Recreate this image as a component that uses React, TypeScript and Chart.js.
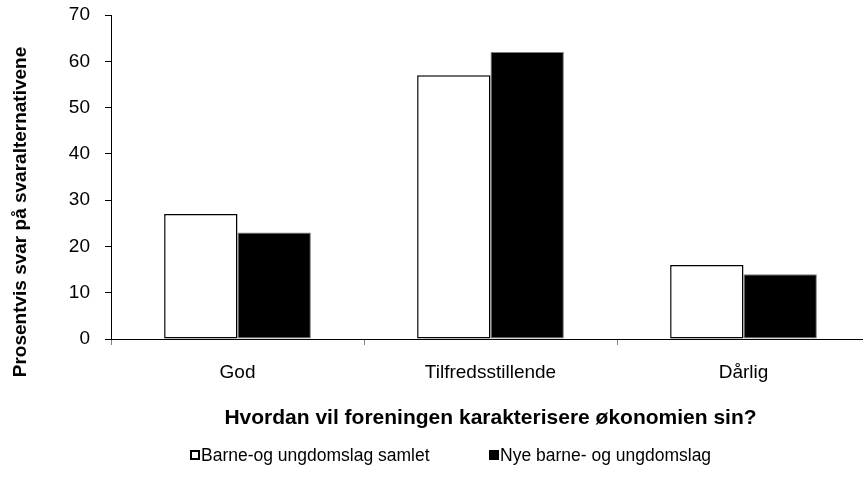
import React, { useEffect, useRef } from "react";
import { Chart, registerables } from "chart.js";

Chart.register(...registerables);

const categories = ["God", "Tilfredsstillende", "Dårlig"];
const seriesLabels = ["Barne-og ungdomslag samlet", "Nye barne- og ungdomslag"];
const samlet = [27, 57, 16];
const nye = [23, 62, 14];
const yTicks = [0, 10, 20, 30, 40, 50, 60, 70];
const xTitle = "Hvordan vil foreningen karakterisere økonomien sin?";
const yTitle = "Prosentvis svar på svaralternativene";

const FONT = "'Liberation Sans', Arial, Helvetica, sans-serif";

const yTitlePlugin = {
  id: "yTitleShifted",
  afterDraw(chart: any) {
    const { ctx, chartArea } = chart;
    ctx.save();
    ctx.font = `bold 19px ${FONT}`;
    ctx.fillStyle = "#000";
    ctx.textAlign = "center";
    ctx.textBaseline = "middle";
    ctx.translate(21, (chartArea.top + chartArea.bottom) / 2 + 35);
    ctx.rotate(-Math.PI / 2);
    ctx.fillText(yTitle, 0, 0);
    ctx.restore();
  },
};

export default function App() {
  const ref = useRef<HTMLCanvasElement>(null);

  useEffect(() => {
    const chart = new Chart(ref.current as HTMLCanvasElement, {
      type: "bar",
      data: {
        labels: categories,
        datasets: [
          {
            label: seriesLabels[0],
            data: samlet,
            backgroundColor: "#ffffff",
            borderColor: "#000000",
            borderWidth: 1.5,
            borderSkipped: false,
          },
          {
            label: seriesLabels[1],
            data: nye,
            backgroundColor: "#000000",
            borderColor: "#7f7f7f",
            borderWidth: 1,
            borderSkipped: false,
          },
        ],
      },
      options: {
        responsive: false,
        animation: false,
        categoryPercentage: 0.58,
        barPercentage: 1,
        layout: { padding: { top: 15, right: 2, left: 0, bottom: 0 } },
        plugins: {
          legend: { display: false },
          tooltip: { enabled: false },
        },
        scales: {
          x: {
            grid: {
              display: true,
              drawOnChartArea: false,
              drawTicks: true,
              tickLength: 6,
              color: "#808080",
              offset: true,
            },
            border: { display: true, color: "#000", width: 1 },
            ticks: {
              color: "#000",
              font: { family: FONT, size: 19 },
              padding: 16,
            },
            title: {
              display: true,
              text: xTitle,
              color: "#000",
              font: { family: FONT, size: 21, weight: "bold" },
              padding: { top: 0, bottom: 65 },
            },
            afterFit: (s: any) => {
              s.height = 157;
              s.paddingLeft = 0;
              s.paddingRight = 0;
            },
          },
          y: {
            min: 0,
            max: 70,
            afterBuildTicks: (s: any) => {
              s.ticks = yTicks.map((v) => ({ value: v }));
            },
            ticks: {
              color: "#000",
              font: { family: FONT, size: 19 },
              padding: 15,
            },
            grid: { drawOnChartArea: false, tickLength: 6, color: "#000" },
            border: { color: "#000", width: 1 },
            afterFit: (s: any) => {
              s.width = 111;
              s.paddingTop = 0;
              s.paddingBottom = 0;
            },
          },
        },
      },
      plugins: [yTitlePlugin],
    } as any);
    return () => chart.destroy();
  }, []);

  const legendLeft = [190, 489];

  return (
    <div
      style={{
        position: "fixed",
        left: 0,
        top: 0,
        width: 863,
        height: 496,
        overflow: "hidden",
        background: "#fff",
      }}
    >
      <canvas ref={ref} width={872} height={496} style={{ display: "block" }} />
      {seriesLabels.map((lab, i) => (
        <div
          key={lab}
          style={{
            position: "absolute",
            top: 445,
            left: legendLeft[i],
            height: 20,
            display: "flex",
            alignItems: "center",
            fontFamily: FONT,
            fontSize: 17.5,
            color: "#000",
            whiteSpace: "nowrap",
          }}
        >
          <span
            style={{
              display: "inline-block",
              width: 10,
              height: 10,
              boxSizing: "border-box",
              border: "2px solid #000",
              background: i === 0 ? "#fff" : "#000",
              marginRight: 1,
            }}
          />
          <span>{lab}</span>
        </div>
      ))}
    </div>
  );
}
